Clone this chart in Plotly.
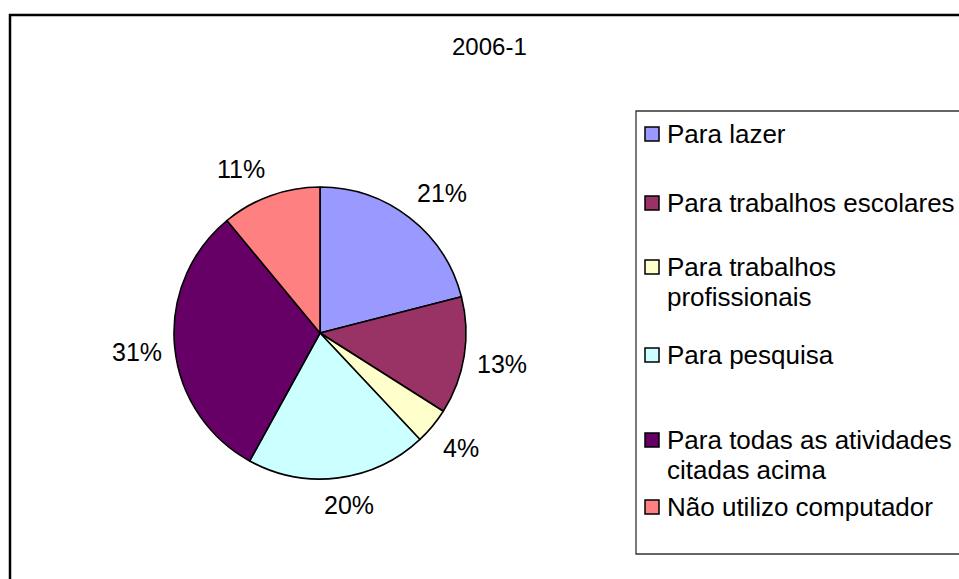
import math
import plotly.graph_objects as go

# ---- data ----
title_text = "2006-1"
categories = [
    "Para lazer",
    "Para trabalhos escolares",
    "Para trabalhos<br>profissionais",
    "Para pesquisa",
    "Para todas as atividades<br>citadas acima",
    "Não utilizo computador",
]
values = [21, 13, 4, 20, 31, 11]
colors = ["#9999FF", "#993366", "#FFFFCC", "#CCFFFF", "#660066", "#FF8080"]

# ---- layout (page pixels) ----
W, H = 959, 579
FONT = "Liberation Sans, Arial, sans-serif"
pie_cx, pie_cy, pie_r = 320, 333, 146
label_gap = 13
label_size = 25
legend_font = 26
legend_row_px = [134, 203, 267, 355, 440, 507]
legend_line_gap = 30


def fx(x):
    return x / W


def fy(y):
    return 1 - y / H


fig = go.Figure()
fig.add_trace(go.Pie(
    labels=[c.replace("<br>", " ") for c in categories],
    values=values,
    sort=False,
    direction="clockwise",
    rotation=0,
    marker=dict(colors=colors, line=dict(color="#000000", width=1.6)),
    textinfo="none",
    domain=dict(x=[fx(pie_cx - pie_r), fx(pie_cx + pie_r)],
                y=[fy(pie_cy + pie_r), fy(pie_cy - pie_r)]),
    showlegend=False,
    hoverinfo="label+percent",
))

shapes = []
annotations = []

# outer chart frame (runs off the right and bottom edges)
shapes.append(dict(type="rect", xref="paper", yref="paper",
                   x0=fx(10), x1=1.05, y0=-0.05, y1=fy(15),
                   line=dict(color="#000000", width=2.5), fillcolor="rgba(0,0,0,0)"))
# legend box
shapes.append(dict(type="rect", xref="paper", yref="paper",
                   x0=fx(636), x1=1.05, y0=fy(554), y1=fy(111),
                   line=dict(color="#333333", width=1.3), fillcolor="rgba(0,0,0,0)"))

# legend entries
for cat, col, ry in zip(categories, colors, legend_row_px):
    shapes.append(dict(type="rect", xref="paper", yref="paper",
                       x0=fx(645), x1=fx(659), y0=fy(ry + 7), y1=fy(ry - 7),
                       line=dict(color="#000000", width=1.5), fillcolor=col))
    for i, line in enumerate(cat.split("<br>")):
        annotations.append(dict(xref="paper", yref="paper", x=fx(665), y=fy(ry + i * legend_line_gap),
                                xanchor="left", yanchor="middle", align="left",
                                text=line, showarrow=False,
                                font=dict(family=FONT, size=legend_font, color="#000000")))

# percentage labels, placed outside each slice at its mid angle
total = sum(values)
cum = 0
for v in values:
    ang = (cum + v / 2) / total * 2 * math.pi
    cum += v
    sx, sy = math.sin(ang), -math.cos(ang)
    txt = f"{round(v / total * 100)}%"
    half_w = 0.5 * label_size * (0.556 * (len(txt) - 1) + 0.889)
    half_h = 14
    clamp = lambda t: max(-1.0, min(1.0, t))
    px = pie_cx + (pie_r + label_gap) * sx + half_w * clamp(3 * sx)
    py = pie_cy + (pie_r + label_gap) * sy + half_h * clamp(3 * sy)
    annotations.append(dict(xref="paper", yref="paper", x=fx(px), y=fy(py),
                            xanchor="center", yanchor="middle", text=txt, showarrow=False,
                            font=dict(family=FONT, size=label_size, color="#000000")))

annotations.append(dict(xref="paper", yref="paper", x=fx(489), y=fy(47),
                        xanchor="center", yanchor="middle", text=title_text, showarrow=False,
                        font=dict(family=FONT, size=24, color="#000000")))

fig.update_layout(
    width=W, height=H,
    margin=dict(l=0, r=0, t=0, b=0),
    paper_bgcolor="#FFFFFF",
    plot_bgcolor="#FFFFFF",
    shapes=shapes,
    annotations=annotations,
)

fig.write_html(
    "out.html",
    config={"displayModeBar": False},
    post_script="document.body.style.margin='0';document.body.style.overflow='hidden';",
)
